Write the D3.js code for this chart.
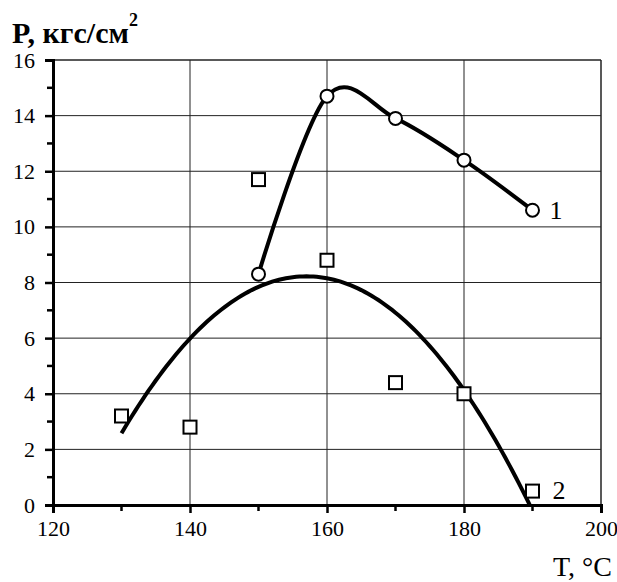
<!DOCTYPE html>
<html>
<head>
<meta charset="utf-8">
<script src="https://cdn.jsdelivr.net/npm/d3@7"></script>
<style>
  body { margin: 0; background: #fff; }
  svg text { font-family: "Liberation Serif", "Times New Roman", serif !important; fill: #000; }
</style>
</head>
<body>
<div id="chart"></div>
<script>
// Temperature, °C
var temps1 = [150, 160, 170, 180, 190];
var pressure1 = [8.3, 14.7, 13.9, 12.4, 10.6];
var temps2 = [130, 140, 150, 160, 170, 180, 190];
var pressure2 = [3.2, 2.8, 11.7, 8.8, 4.4, 4.0, 0.5];
var xTicks = [120, 140, 160, 180, 200];
var xMinor = [130, 150, 170, 190];
var yTicks = [0, 2, 4, 6, 8, 10, 12, 14, 16];
var yMinor = [1, 3, 5, 7, 9, 11, 13, 15];

var width = 617;
var height = 582;
var margin = { top: 60, right: 16, bottom: 77, left: 53 };
var innerW = width - margin.left - margin.right;
var innerH = height - margin.top - margin.bottom;
var serif = '"Liberation Serif", serif';

var svg = d3.select('#chart')
  .append('svg')
  .attr('width', width)
  .attr('height', height)
  .style('font-family', serif);

var x = d3.scaleLinear().domain([120, 200]).range([0, innerW]);
var y = d3.scaleLinear().domain([0, 16]).range([innerH, 0]);

var g = svg.append('g')
  .attr('transform', `translate(${margin.left},${margin.top})`);

g.append('clipPath')
  .attr('id', 'plot-clip')
  .append('rect')
  .attr('width', innerW)
  .attr('height', innerH);

// grid
g.selectAll('.hgrid')
  .data(yTicks.slice(1))
  .enter()
  .append('line')
  .attr('x1', 0)
  .attr('x2', innerW)
  .attr('y1', d => y(d))
  .attr('y2', d => y(d))
  .attr('stroke', '#222')
  .attr('stroke-width', d => d === 16 ? 1.5 : 1);

g.selectAll('.vgrid')
  .data(xTicks.slice(1))
  .enter()
  .append('line')
  .attr('x1', d => x(d))
  .attr('x2', d => x(d))
  .attr('y1', 0)
  .attr('y2', innerH)
  .attr('stroke', '#222')
  .attr('stroke-width', d => d === 200 ? 1.5 : 1);

// axes
var xAxis = d3.axisBottom(x).tickValues(xTicks).tickSize(8).tickPadding(7);
var yAxis = d3.axisLeft(y).tickValues(yTicks).tickSize(8).tickPadding(10);

var xg = g.append('g')
  .attr('transform', `translate(0,${innerH})`)
  .call(xAxis);
var yg = g.append('g').call(yAxis);

[xg, yg].forEach(function (a) {
  a.attr('font-family', null).attr('font-size', null);
  a.select('.domain').attr('stroke', '#000').attr('stroke-width', 3);
  a.selectAll('.tick line').attr('stroke', '#000').attr('stroke-width', 2.5);
  a.selectAll('.tick text')
    .style('font-family', serif)
    .style('font-size', '22px');
});

g.selectAll('.xminor')
  .data(xMinor)
  .enter()
  .append('line')
  .attr('x1', d => x(d))
  .attr('x2', d => x(d))
  .attr('y1', innerH)
  .attr('y2', innerH + 6)
  .attr('stroke', '#000')
  .attr('stroke-width', 2.5);

g.selectAll('.yminor')
  .data(yMinor)
  .enter()
  .append('line')
  .attr('x1', -6)
  .attr('x2', 0)
  .attr('y1', d => y(d))
  .attr('y2', d => y(d))
  .attr('stroke', '#000')
  .attr('stroke-width', 2.5);

// series 2 trend: 2nd order least squares fit of the squares (as in the original)
function quadFit(xs, ys) {
  var s = [0, 0, 0, 0, 0];
  var t = [0, 0, 0];
  xs.forEach(function (xv, i) {
    var p = 1;
    for (var k = 0; k < 5; k++) {
      s[k] += p;
      if (k < 3) t[k] += p * ys[i];
      p *= xv;
    }
  });
  var m = [[s[0], s[1], s[2], t[0]], [s[1], s[2], s[3], t[1]], [s[2], s[3], s[4], t[2]]];
  for (var c = 0; c < 3; c++) {
    for (var r = c + 1; r < 3; r++) {
      var f = m[r][c] / m[c][c];
      for (var k = c; k < 4; k++) m[r][k] -= f * m[c][k];
    }
  }
  var coef = [0, 0, 0];
  for (var r = 2; r >= 0; r--) {
    var v = m[r][3];
    for (var k = r + 1; k < 3; k++) v -= m[r][k] * coef[k];
    coef[r] = v / m[r][r];
  }
  return function (xv) { return coef[0] + coef[1] * xv + coef[2] * xv * xv; };
}

var u2 = temps2.map(d => d - 160);
var fit = quadFit(u2, pressure2);
var trendPts = d3.range(130, 190.01, 0.5).map(d => [d, fit(d - 160)]);

var plot = g.append('g').attr('clip-path', 'url(#plot-clip)');

plot.append('path')
  .datum(trendPts)
  .attr('fill', 'none')
  .attr('stroke', '#000')
  .attr('stroke-width', 4)
  .attr('d', d3.line().x(d => x(d[0])).y(d => y(d[1])));

// series 1 smoothed line
var line1 = d3.line()
  .x((d, i) => x(temps1[i]))
  .y(d => y(d))
  .curve(d3.curveCardinal.tension(0));

g.append('path')
  .datum(pressure1)
  .attr('fill', 'none')
  .attr('stroke', '#000')
  .attr('stroke-width', 4)
  .attr('d', line1);

// markers
g.selectAll('.sq')
  .data(pressure2)
  .enter()
  .append('rect')
  .attr('x', (d, i) => x(temps2[i]) - 6.5)
  .attr('y', d => y(d) - 6.5)
  .attr('width', 13)
  .attr('height', 13)
  .attr('fill', '#fff')
  .attr('stroke', '#000')
  .attr('stroke-width', 2);

g.selectAll('.circ')
  .data(pressure1)
  .enter()
  .append('circle')
  .attr('cx', (d, i) => x(temps1[i]))
  .attr('cy', d => y(d))
  .attr('r', 6.5)
  .attr('fill', '#fff')
  .attr('stroke', '#000')
  .attr('stroke-width', 2);

// curve numbers
g.append('text')
  .attr('x', x(190) + 17)
  .attr('y', y(10.6) + 9)
  .style('font-size', '26px')
  .text('1');

g.append('text')
  .attr('x', x(190) + 20)
  .attr('y', y(0.5) + 8)
  .style('font-size', '26px')
  .text('2');

// axis titles
svg.append('text')
  .attr('x', 12)
  .attr('y', 43)
  .style('font-size', '30px')
  .style('font-weight', 'bold')
  .text('P, кгс/см')
  .append('tspan')
  .attr('dy', -17)
  .style('font-size', '18px')
  .text('2');

svg.append('text')
  .attr('x', 612)
  .attr('y', 576)
  .attr('text-anchor', 'end')
  .style('font-size', '28px')
  .text('T, °C');
</script>
</body>
</html>
